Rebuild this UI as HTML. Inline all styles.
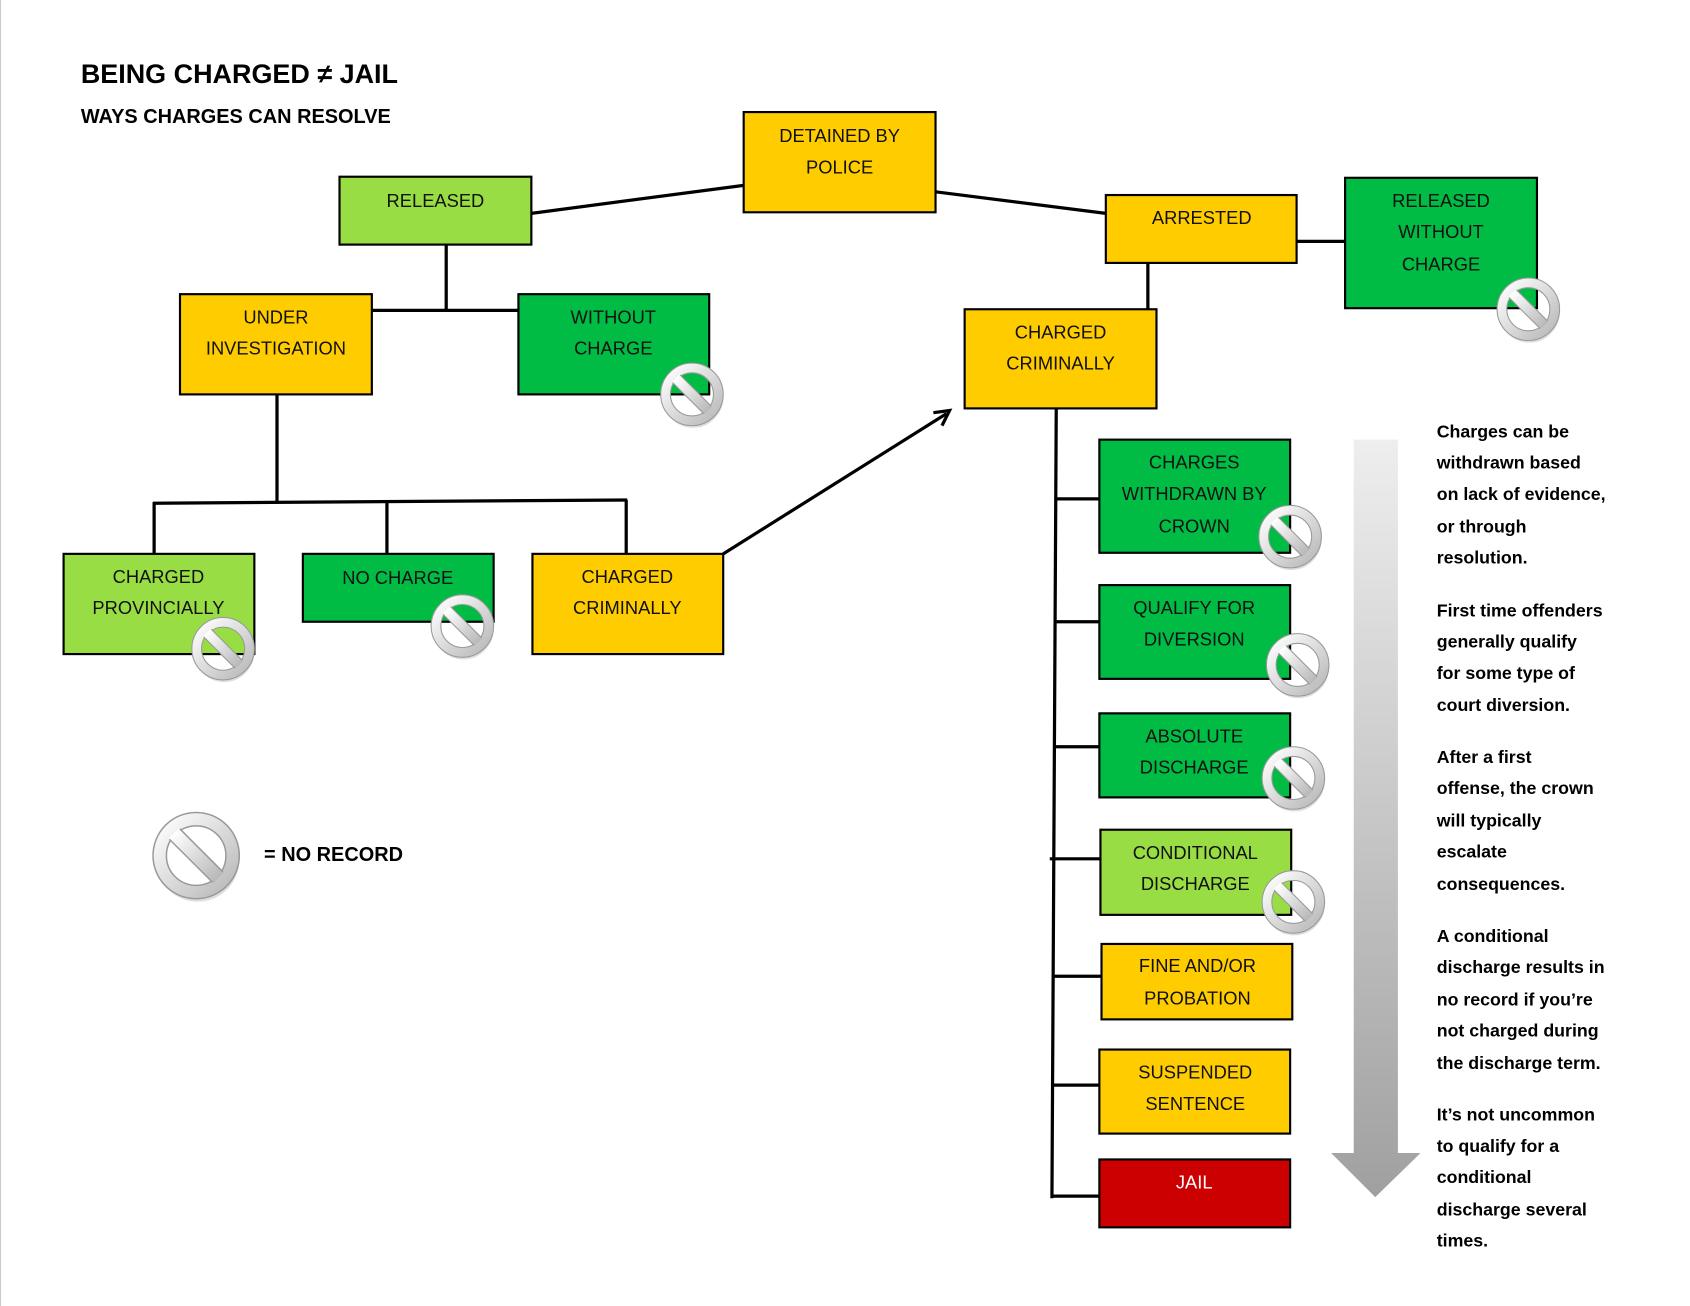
<!DOCTYPE html>
<html><head><meta charset="utf-8"><style>
html,body{margin:0;padding:0;background:#fff;}
svg{display:block;}
text{font-family:"Liberation Sans",sans-serif;}
.b{font-size:17px;fill:#111;text-anchor:middle;}
.t{font-size:16.5px;font-weight:bold;fill:#000;}
</style></head><body>
<svg width="1690" height="1306" viewBox="0 0 1568 1212" preserveAspectRatio="none" xmlns="http://www.w3.org/2000/svg">
<defs>
<linearGradient id="ag" x1="0" y1="0" x2="0" y2="1"><stop offset="0" stop-color="#eeeeee"/><stop offset="1" stop-color="#a0a0a0"/></linearGradient>
<linearGradient id="ig" x1="0" y1="0" x2="1" y2="1"><stop offset="0" stop-color="#ffffff"/><stop offset="1" stop-color="#b8b8b8"/></linearGradient>
<g id="nr">
<circle r="27" fill="none" stroke="#c8c8c8" stroke-width="2" transform="translate(1,3)" opacity="0.6"/>
<circle r="24.5" fill="none" stroke="url(#ig)" stroke-width="9"/>
<circle r="29" fill="none" stroke="#999" stroke-width="1"/>
<circle r="20" fill="none" stroke="#999" stroke-width="1"/>
<line x1="-15" y1="-15" x2="15" y2="15" stroke="url(#ig)" stroke-width="10"/>
<line x1="-18" y1="-11" x2="11" y2="18" stroke="#999" stroke-width="1"/>
<line x1="-11" y1="-18" x2="18" y2="11" stroke="#999" stroke-width="1"/>
</g>
</defs>
<rect width="1568" height="1212" fill="#fff"/>
<line x1="0.5" y1="0" x2="0.5" y2="1212" stroke="#ccc"/>
<text x="75" y="77" style="font-size:25px;font-weight:bold">BEING CHARGED ≠ JAIL</text>
<text x="75" y="114" style="font-size:18.5px;font-weight:bold">WAYS CHARGES CAN RESOLVE</text>

<g stroke="#000" stroke-width="3" fill="none">
<line x1="493" y1="198" x2="690" y2="172"/>
<line x1="868" y1="178" x2="1026" y2="198"/>
<line x1="1203" y1="224" x2="1248" y2="224"/>
<line x1="1065" y1="244" x2="1065" y2="287"/>
<line x1="414" y1="227" x2="414" y2="288"/>
<line x1="345" y1="288" x2="481" y2="288"/>
<line x1="257" y1="366" x2="257" y2="465"/>
<line x1="142" y1="467" x2="582" y2="464"/>
<line x1="143" y1="466" x2="143" y2="514"/>
<line x1="359" y1="465" x2="359" y2="514"/>
<line x1="581" y1="464" x2="581" y2="514"/>
<line x1="671" y1="514" x2="878" y2="384"/>
<path d="M866 383 L881 381 L874 395"/>
<line x1="980" y1="379" x2="976" y2="1112"/>
<line x1="980" y1="463" x2="1026" y2="463"/>
<line x1="980" y1="577" x2="1026" y2="577"/>
<line x1="979" y1="693" x2="1026" y2="693"/>
<line x1="974" y1="797" x2="1026" y2="797"/>
<line x1="978" y1="906" x2="1026" y2="906"/>
<line x1="977" y1="1007" x2="1026" y2="1007"/>
<line x1="975" y1="1110" x2="1026" y2="1110"/>
</g>

<g stroke="#000" stroke-width="2">
<rect x="690" y="104" width="178" height="93" fill="#FFCC00"/>
<rect x="315" y="164" width="178" height="63" fill="#99DD44"/>
<rect x="1026" y="181" width="177" height="63" fill="#FFCC00"/>
<rect x="1248" y="165" width="178" height="121" fill="#00BB44"/>
<rect x="167" y="273" width="178" height="93" fill="#FFCC00"/>
<rect x="481" y="273" width="177" height="93" fill="#00BB44"/>
<rect x="895" y="287" width="178" height="92" fill="#FFCC00"/>
<rect x="59" y="514" width="177" height="93" fill="#99DD44"/>
<rect x="281" y="514" width="177" height="63" fill="#00BB44"/>
<rect x="494" y="514" width="177" height="93" fill="#FFCC00"/>
<rect x="1020" y="408" width="177" height="105" fill="#00BB44"/>
<rect x="1020" y="543" width="177" height="87" fill="#00BB44"/>
<rect x="1020" y="662" width="177" height="78" fill="#00BB44"/>
<rect x="1021" y="770" width="177" height="79" fill="#99DD44"/>
<rect x="1022" y="876" width="177" height="70" fill="#FFCC00"/>
<rect x="1020" y="974" width="177" height="78" fill="#FFCC00"/>
<rect x="1020" y="1076" width="177" height="63" fill="#CC0000"/>
</g>

<text class="b" x="779" y="132">DETAINED BY</text><text class="b" x="779" y="161">POLICE</text>
<text class="b" x="404" y="192">RELEASED</text>
<text class="b" x="1115" y="208">ARRESTED</text>
<text class="b" x="1337" y="192">RELEASED</text><text class="b" x="1337" y="221">WITHOUT</text><text class="b" x="1337" y="251">CHARGE</text>
<text class="b" x="256" y="300">UNDER</text><text class="b" x="256" y="329">INVESTIGATION</text>
<text class="b" x="569" y="300">WITHOUT</text><text class="b" x="569" y="329">CHARGE</text>
<text class="b" x="984" y="314">CHARGED</text><text class="b" x="984" y="343">CRIMINALLY</text>
<text class="b" x="147" y="541">CHARGED</text><text class="b" x="147" y="570">PROVINCIALLY</text>
<text class="b" x="369" y="542">NO CHARGE</text>
<text class="b" x="582" y="541">CHARGED</text><text class="b" x="582" y="570">CRIMINALLY</text>
<text class="b" x="1108" y="435">CHARGES</text><text class="b" x="1108" y="464">WITHDRAWN BY</text><text class="b" x="1108" y="494">CROWN</text>
<text class="b" x="1108" y="570">QUALIFY FOR</text><text class="b" x="1108" y="599">DIVERSION</text>
<text class="b" x="1108" y="689">ABSOLUTE</text><text class="b" x="1108" y="718">DISCHARGE</text>
<text class="b" x="1109" y="797">CONDITIONAL</text><text class="b" x="1109" y="826">DISCHARGE</text>
<text class="b" x="1111" y="902">FINE AND/OR</text><text class="b" x="1111" y="932">PROBATION</text>
<text class="b" x="1109" y="1001">SUSPENDED</text><text class="b" x="1109" y="1030">SENTENCE</text>
<text class="b" x="1108" y="1103" style="fill:#fff">JAIL</text>

<use href="#nr" x="642" y="366"/>
<use href="#nr" x="207" y="602"/>
<use href="#nr" x="429" y="581"/>
<use href="#nr" x="1418" y="287"/>
<use href="#nr" x="1197" y="498"/>
<use href="#nr" x="1204" y="617"/>
<use href="#nr" x="1200" y="722"/>
<use href="#nr" x="1200" y="837"/>
<use href="#nr" transform="translate(182,794) scale(1.38)"/>
<text x="245" y="799" style="font-size:18.5px;font-weight:bold">= NO RECORD</text>

<path d="M1256 408 H1297 V1070 H1318 L1276 1111 L1235 1070 H1256 Z" fill="url(#ag)"/>

<g>
<text class="t" x="1333" y="406">Charges can be</text>
<text class="t" x="1333" y="435">withdrawn based</text>
<text class="t" x="1333" y="464">on lack of evidence,</text>
<text class="t" x="1333" y="494">or through</text>
<text class="t" x="1333" y="523">resolution.</text>
<text class="t" x="1333" y="572">First time offenders</text>
<text class="t" x="1333" y="601">generally qualify</text>
<text class="t" x="1333" y="630">for some type of</text>
<text class="t" x="1333" y="660">court diversion.</text>
<text class="t" x="1333" y="708">After a first</text>
<text class="t" x="1333" y="737">offense, the crown</text>
<text class="t" x="1333" y="767">will typically</text>
<text class="t" x="1333" y="796">escalate</text>
<text class="t" x="1333" y="826">consequences.</text>
<text class="t" x="1333" y="874">A conditional</text>
<text class="t" x="1333" y="903">discharge results in</text>
<text class="t" x="1333" y="933">no record if you’re</text>
<text class="t" x="1333" y="962">not charged during</text>
<text class="t" x="1333" y="992">the discharge term.</text>
<text class="t" x="1333" y="1040">It’s not uncommon</text>
<text class="t" x="1333" y="1069">to qualify for a</text>
<text class="t" x="1333" y="1098">conditional</text>
<text class="t" x="1333" y="1128">discharge several</text>
<text class="t" x="1333" y="1157">times.</text>
</g>
</svg>
</body></html>
